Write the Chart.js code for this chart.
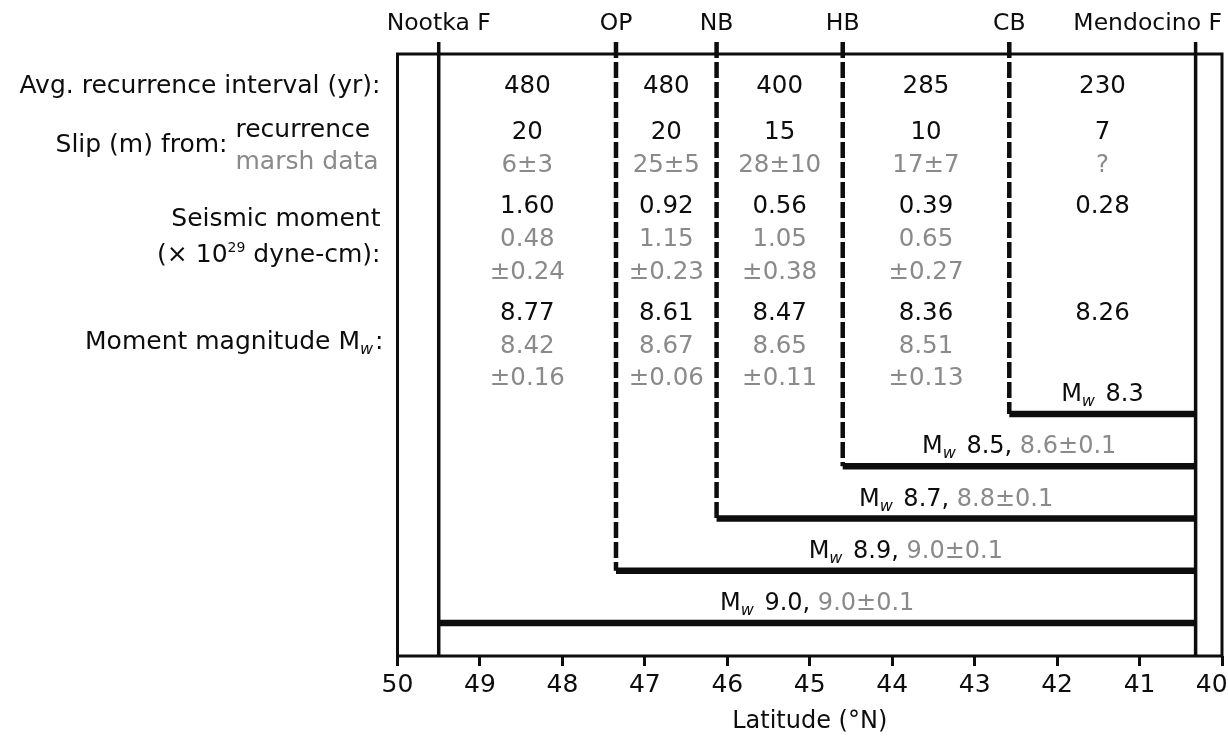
<!DOCTYPE html>
<html>
<head>
<meta charset="utf-8">
<script src="https://cdn.jsdelivr.net/npm/chart.js@4.4.0/dist/chart.umd.min.js"></script>
<style>
html,body{margin:0;padding:0;background:#ffffff;}
#wrap{width:1228px;height:736px;position:relative;}
</style>
</head>
<body>
<div id="wrap"><canvas id="c" width="1228" height="736"></canvas></div>
<script>
// ---------------- DATA ----------------
const boundaryNames = ['Nootka F', 'OP', 'NB', 'HB', 'CB', 'Mendocino F'];
const boundaryLat = [49.5, 47.35, 46.13, 44.6, 42.58, 40.32];
const recurrenceInterval = ['480', '480', '400', '285', '230'];
const slipRecurrence = ['20', '20', '15', '10', '7'];
const slipMarsh = ['6±3', '25±5', '28±10', '17±7', '?'];
const momentRecurrence = ['1.60', '0.92', '0.56', '0.39', '0.28'];
const momentMarsh = ['0.48', '1.15', '1.05', '0.65', ''];
const momentMarshErr = ['±0.24', '±0.23', '±0.38', '±0.27', ''];
const mwRecurrence = ['8.77', '8.61', '8.47', '8.36', '8.26'];
const mwMarsh = ['8.42', '8.67', '8.65', '8.51', ''];
const mwMarshErr = ['±0.16', '±0.06', '±0.11', '±0.13', ''];
// rupture scenarios: northern end (boundary index) -> Mendocino F; level = stacking row
const ruptureStart = [0, 1, 2, 3, 4];
const ruptureMw = ['9.0', '8.9', '8.7', '8.5', '8.3'];
const ruptureMarshMw = ['9.0±0.1', '9.0±0.1', '8.8±0.1', '8.6±0.1', ''];
const xTicks = [50, 49, 48, 47, 46, 45, 44, 43, 42, 41, 40];

// ---------------- STYLE / LAYOUT ----------------
const FONT = '"DejaVu Sans", sans-serif';
const BLACK = '#0d0d0d';
const GRAY = '#8a8a8a';
const LAY = {
  yMin: -0.632, yMax: 10.89, tickTop: 11.12, labelLift: 0.41,
  valueSize: 24.5, labelSize: 25, topSize: 23.5, barSize: 24,
  rows: [
    { vals: recurrenceInterval, color: BLACK, y: 10.316 },
    { vals: slipRecurrence, color: BLACK, y: 9.435 },
    { vals: slipMarsh, color: GRAY, y: 8.804 },
    { vals: momentRecurrence, color: BLACK, y: 8.019 },
    { vals: momentMarsh, color: GRAY, y: 7.388 },
    { vals: momentMarshErr, color: GRAY, y: 6.756 },
    { vals: mwRecurrence, color: BLACK, y: 5.971 },
    { vals: mwMarsh, color: GRAY, y: 5.340 },
    { vals: mwMarshErr, color: GRAY, y: 4.727 }
  ]
};

const last = boundaryLat.length - 1;
const datasets = [];
// boundary lines
boundaryLat.forEach((lat, i) => {
  const solid = (i === 0 || i === last);
  datasets.push({
    data: [{ x: lat, y: LAY.tickTop }, { x: lat, y: solid ? LAY.yMin : i }],
    borderColor: BLACK,
    borderWidth: solid ? 3.5 : 4.5,
    borderDash: solid ? [] : [16, 4],
    showLine: true, pointRadius: 0, clip: false, borderCapStyle: 'butt'
  });
});
// rupture bars
ruptureStart.forEach((b, lvl) => {
  datasets.push({
    data: [{ x: boundaryLat[b], y: lvl }, { x: boundaryLat[last], y: lvl }],
    borderColor: BLACK, borderWidth: 6.5,
    showLine: true, pointRadius: 0, clip: false, borderCapStyle: 'butt'
  });
});

function rich(ctx, parts, x, yc, align, size) {
  let w = 0; const ws = [];
  for (const p of parts) {
    const s = p.size || size;
    ctx.font = (p.italic ? 'italic ' : '') + s + 'px ' + FONT;
    const pw = ctx.measureText(p.t).width + (p.gap || 0);
    ws.push(pw); w += pw;
  }
  let sx = align === 'center' ? x - w / 2 : (align === 'right' ? x - w : x);
  const base = yc + 0.36 * size;
  parts.forEach((p, i) => {
    const s = p.size || size;
    ctx.font = (p.italic ? 'italic ' : '') + s + 'px ' + FONT;
    ctx.fillStyle = p.color || BLACK;
    ctx.textAlign = 'left';
    ctx.textBaseline = 'alphabetic';
    ctx.fillText(p.t, sx, base + (p.dy || 0));
    sx += ws[i];
  });
}

const framePlugin = {
  id: 'frame',
  beforeDatasetsDraw(chart) {
    const { ctx, chartArea: a } = chart;
    ctx.save();
    ctx.strokeStyle = BLACK; ctx.lineWidth = 3;
    ctx.strokeRect(a.left, a.top, a.right - a.left, a.bottom - a.top);
    ctx.restore();
  }
};

const textPlugin = {
  id: 'texts',
  afterDraw(chart) {
    const { ctx, chartArea: a, scales: { x, y } } = chart;
    ctx.save();
    const px = boundaryLat.map(v => x.getPixelForValue(v));
    // boundary names
    boundaryNames.forEach((n, i) => {
      if (i === last) rich(ctx, [{ t: n }], a.right, a.top - 32, 'right', LAY.topSize);
      else rich(ctx, [{ t: n }], px[i], a.top - 32, 'center', LAY.topSize);
    });
    // table values
    LAY.rows.forEach(r => {
      r.vals.forEach((v, j) => {
        if (!v) return;
        const cx = (px[j] + px[j + 1]) / 2;
        rich(ctx, [{ t: v, color: r.color }], cx, y.getPixelForValue(r.y), 'center', LAY.valueSize);
      });
    });
    // row labels
    const R = a.left - 17;
    const S = LAY.labelSize;
    rich(ctx, [{ t: 'Avg. recurrence interval (yr):' }], R, y.getPixelForValue(10.316), 'right', S);
    rich(ctx, [{ t: 'Slip (m) from:' }], a.left - 170, y.getPixelForValue(9.187), 'right', S);
    rich(ctx, [{ t: 'recurrence' }], a.left - 162, y.getPixelForValue(9.474), 'left', S);
    rich(ctx, [{ t: 'marsh data', color: GRAY }], a.left - 162, y.getPixelForValue(8.861), 'left', S);
    rich(ctx, [{ t: 'Seismic moment' }], R, y.getPixelForValue(7.770), 'right', S);
    rich(ctx, [{ t: '(× 10' }, { t: '29', size: 14, dy: -10 }, { t: ' dyne-cm):' }], R, y.getPixelForValue(7.081), 'right', S);
    rich(ctx, [{ t: 'Moment magnitude M' }, { t: 'w', italic: true, size: 16, dy: 5, gap: 2 }, { t: ':' }], R + 3, y.getPixelForValue(5.416), 'right', S);
    // rupture labels
    ruptureStart.forEach((b, lvl) => {
      const cx = (px[b] + px[last]) / 2;
      const parts = [{ t: 'M' }, { t: 'w', italic: true, size: 16, dy: 5, gap: 3 }, { t: ' ' + ruptureMw[lvl] + (ruptureMarshMw[lvl] ? ', ' : '') }];
      if (ruptureMarshMw[lvl]) parts.push({ t: ruptureMarshMw[lvl], color: GRAY });
      rich(ctx, parts, cx, y.getPixelForValue(lvl + LAY.labelLift), 'center', LAY.barSize);
    });
    ctx.restore();
  }
};

new Chart(document.getElementById('c'), {
  type: 'scatter',
  data: { datasets },
  options: {
    responsive: false, animation: false, devicePixelRatio: 1,
    layout: { padding: { left: 397.5, right: 6, top: 54, bottom: 0 } },
    plugins: { legend: { display: false }, tooltip: { enabled: false } },
    scales: {
      x: {
        type: 'linear', reverse: true, min: 40, max: 50,
        afterBuildTicks(s) { s.ticks = xTicks.map(v => ({ value: v })); },
        afterFit(s) { s.height = 80; s.paddingLeft = 0; s.paddingRight = 0; },
        ticks: {
          color: BLACK, font: { family: FONT, size: 25 }, padding: 4, maxRotation: 0, autoSkip: false,
          callback: (v) => v === 40 ? '40\u2002 ' : String(v)
        },
        grid: { display: true, drawOnChartArea: false, drawTicks: true, tickLength: 10, tickWidth: 3, tickColor: BLACK, color: BLACK },
        border: { display: false },
        title: { display: true, text: 'Latitude (°N)', color: BLACK, font: { family: FONT, size: 24 }, padding: { top: 0, bottom: 0 } }
      },
      y: { type: 'linear', display: false, min: LAY.yMin, max: LAY.yMax }
    }
  },
  plugins: [framePlugin, textPlugin]
});
</script>
</body>
</html>
